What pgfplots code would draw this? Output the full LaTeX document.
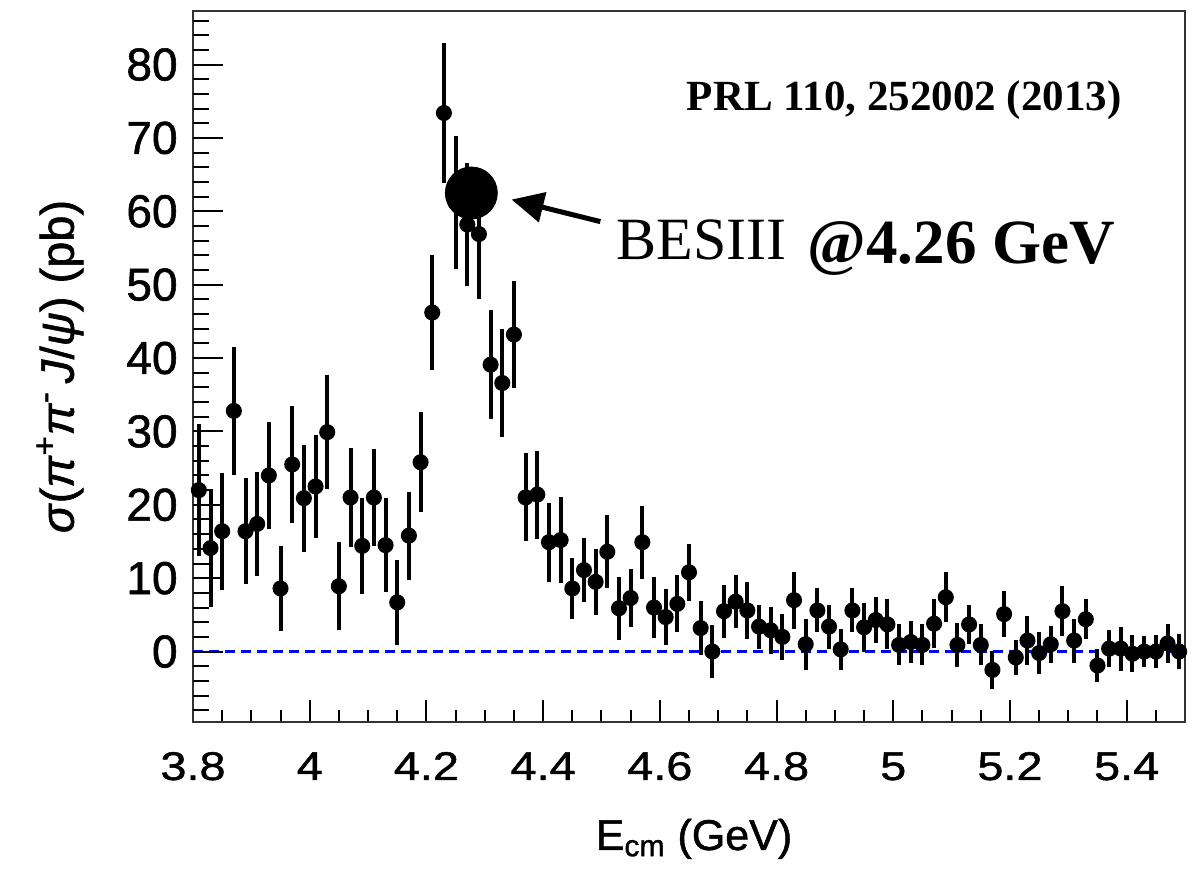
\documentclass[border=0pt]{standalone}
\usepackage{pgfplots}
\pgfplotsset{compat=1.18}
\usepackage{pgfplotstable}
\usepackage{fontspec}
\setmainfont{Liberation Sans}
\newfontfamily\serif{Liberation Serif}
\newfontfamily\heavysans[FakeBold=1.2]{Liberation Sans}
\newfontfamily\widesans[FakeStretch=1.17,FakeBold=1.2]{Liberation Sans}
\usetikzlibrary{arrows.meta}

% sigma(e+e- -> pi+ pi- J/psi), 20 MeV bins: E_cm, cross section, error (pb)
\pgfplotstableread{
x y ey
3.81 22.0 9.0
3.83 14.1 8.0
3.85 16.4 8.0
3.87 32.8 8.7
3.89 16.4 7.2
3.91 17.4 7.1
3.93 24.0 7.3
3.95 8.6 5.8
3.97 25.5 8.0
3.99 20.9 7.3
4.01 22.5 7.0
4.03 29.9 7.8
4.05 8.9 6.0
4.07 21.0 6.8
4.09 14.4 6.5
4.11 21.0 6.6
4.13 14.5 6.4
4.15 6.7 5.8
4.17 15.8 6.0
4.19 25.8 6.8
4.21 46.2 7.8
4.23 73.4 9.5
4.25 61.2 9.0
4.27 58.2 8.4
4.29 56.9 8.8
4.31 39.1 7.4
4.33 36.6 7.4
4.35 43.2 7.3
4.37 21.0 6.0
4.39 21.4 6.0
4.41 14.9 5.4
4.43 15.2 5.8
4.45 8.6 4.1
4.47 11.1 4.4
4.49 9.5 4.5
4.51 13.6 5.0
4.53 5.9 4.3
4.55 7.3 4.0
4.57 14.9 5.0
4.59 6.0 4.2
4.61 4.7 3.8
4.63 6.5 3.9
4.65 10.8 3.9
4.67 3.2 3.7
4.69 0.0 3.6
4.71 5.5 3.6
4.73 6.8 3.6
4.75 5.6 3.9
4.77 3.4 3.0
4.79 2.9 3.2
4.81 2.0 3.1
4.83 7.0 3.9
4.85 1.0 3.5
4.87 5.6 3.0
4.89 3.4 3.0
4.91 0.3 2.8
4.93 5.6 3.0
4.95 3.3 3.3
4.97 4.3 3.1
4.99 3.7 3.4
5.01 0.9 2.8
5.03 1.3 2.8
5.05 0.9 2.8
5.07 3.8 3.3
5.09 7.4 3.4
5.11 0.9 3.0
5.13 3.7 2.7
5.15 0.9 2.8
5.17 -2.5 2.6
5.19 5.1 3.1
5.21 -0.8 2.4
5.23 1.5 3.3
5.25 -0.2 2.9
5.27 1.0 2.5
5.29 5.5 3.4
5.31 1.5 3.0
5.33 4.4 2.7
5.35 -1.9 2.3
5.37 0.4 2.5
5.39 0.4 3.0
5.41 -0.3 2.5
5.43 0.0 2.1
5.45 0.0 2.2
5.47 1.1 2.7
5.49 0.0 2.4
}\xsecdata

% BESIII measurement
\pgfplotstableread{
x y
4.277 62.5
}\besdata

\begin{document}
\begin{tikzpicture}
\useasboundingbox (-96.5pt,-74pt) rectangle (504.5pt,361pt);
\pgfplotsset{
  frame/.style={
    width=496pt, height=355.5pt, scale only axis,
    xmin=3.8, xmax=5.5, ymin=-9.6, ymax=87.3,
    tick pos=left, tick align=inside,
    tick style={line width=1pt, black},
  },
}
% x axis, frame and data
\begin{axis}[frame,
  axis line style={line width=1.4pt, black!80},
  xtick={3.8,4,4.2,4.4,4.6,4.8,5,5.2,5.4},
  minor xtick={3.85,3.9,3.95,4.05,4.1,4.15,4.25,4.3,4.35,4.45,4.5,4.55,4.65,4.7,4.75,4.85,4.9,4.95,5.05,5.1,5.15,5.25,5.3,5.35,5.45},
  ytick=\empty,
  major tick length=11pt, minor tick length=6pt,
  xticklabel style={font=\widesans\fontsize{20}{24}\selectfont, anchor=base, yshift=-29pt},
  /pgf/number format/assume math mode=true,
  xlabel={E\textsubscript{cm} (GeV)},
  xlabel style={font=\heavysans\fontsize{21.5}{25}\selectfont, at={(axis description cs:0.505,-0.18)}, anchor=base},
  clip=false,
]
\addplot[blue, line width=1.3pt, dash pattern=on 5pt off 3pt] coordinates {(3.8,0) (5.5,0)};
\addplot[black, only marks, mark=*, mark size=3pt, line width=2pt,
  error bars/.cd, y dir=both, y explicit, error mark=none,
  error bar style={line width=2pt}]
  table[x=x, y=y, y error=ey] {\xsecdata};
\addplot[black, only marks, mark=*, mark size=13pt] table[x=x, y=y] {\besdata};
\draw[line width=2.5pt, -{Triangle[length=16pt,width=15pt]}] (axis cs:4.498,58.6) -- (axis cs:4.346,61.6);
\node[font=\serif\fontsize{30}{34}\selectfont, anchor=base west, inner sep=0pt] at (axis cs:4.525,53.5) {BESIII};
\node[font=\serif\bfseries\fontsize{31.5}{36}\selectfont, anchor=base west, inner sep=0pt] at (axis cs:4.853,52.9) {@4.26 GeV};
\node[font=\serif\bfseries\fontsize{21.5}{25}\selectfont, anchor=base east, inner sep=0pt] at (axis cs:5.392,73.8) {PRL 110, 252002 (2013)};
\end{axis}
% y axis ticks and labels
\begin{axis}[frame,
  hide x axis,
  axis line style={draw=none},
  ytick={0,10,...,80},
  minor ytick={-8,-6,...,86},
  major tick length=15pt, minor tick length=8pt,
  yticklabel style={font=\heavysans\fontsize{23}{27}\selectfont, anchor=east, inner sep=0pt, xshift=-7.5pt},
  /pgf/number format/assume math mode=true,
  ylabel={\textit{σ}(\textit{π}\textsuperscript{+}\textit{π}\textsuperscript{-}\,\textit{J}/\textit{ψ}) (pb)},
  ylabel style={font=\heavysans\fontsize{23.5}{27}\selectfont, at={(axis description cs:-0.134,0.5)}, anchor=center},
]
\addplot[draw=none] coordinates {(4,0)};
\end{axis}
\end{tikzpicture}
\end{document}
